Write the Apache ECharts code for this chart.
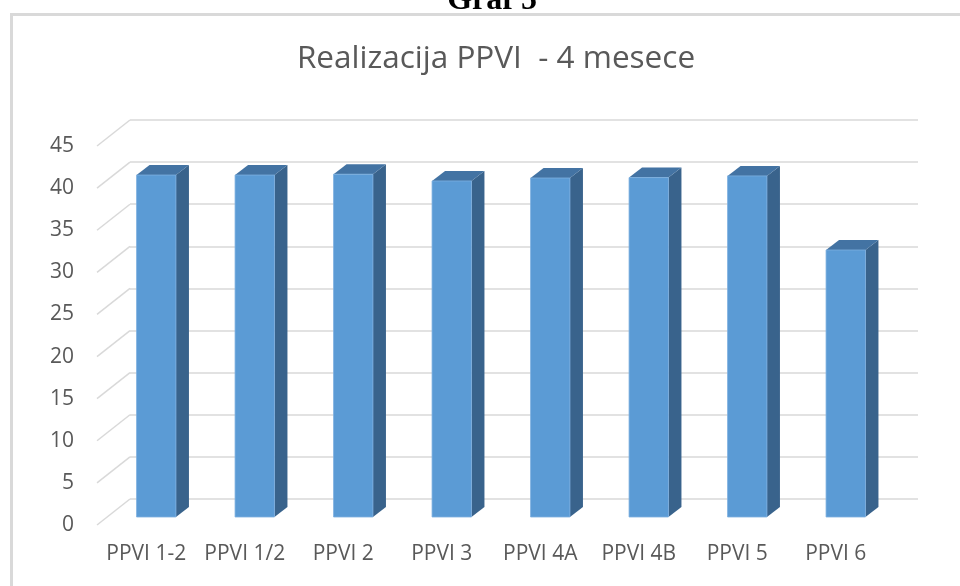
<!doctype html>
<html>
	<head>
		<meta charset="UTF-8">
		<title>Realizacija PPVI - 4 mesece</title>
		<script src="https://cdn.jsdelivr.net/npm/echarts@6/dist/echarts.min.js"></script>
		<style>
			html, body {
				margin: 0;
				padding: 0;
				background: #fff;
			}
			#chart {
				width: 960px;
				height: 586px;
			}
		</style>
	</head>
	<body>
		<div id="chart"></div>
		<script type="text/javascript">
			// podaci sa grafikona
			var categories = ['PPVI 1-2', 'PPVI 1/2', 'PPVI 2', 'PPVI 3', 'PPVI 4A', 'PPVI 4B', 'PPVI 5', 'PPVI 6'];
			var values = [40.6, 40.6, 40.7, 39.9, 40.25, 40.3, 40.5, 31.7];
			var yTicks = [0, 5, 10, 15, 20, 25, 30, 35, 40, 45];
			var titleText = 'Realizacija PPVI  - 4 mesece';
			var captionText = 'Graf 5';

			// "dubina" 3D prikaza (pomak zadnjeg zida u odnosu na prednju ravan)
			var DEPTH_X = 33, DEPTH_Y = -26;
			var FRONT_X = 10, FRONT_Y = -8; // prednja strana stubica
			var SIDE_X = 13, SIDE_Y = -10;  // debljina stubica

			var axisFont = '"Open Sans", sans-serif';

			function renderBar(params, api) {
				var i = api.value(0);
				var base = api.coord([i, 0]);
				var top = api.coord([i, api.value(1)]);
				var bw = api.size([1, 0])[0] * 0.4;
				var xl = base[0] - bw / 2 + FRONT_X;
				var xr = xl + bw;
				var yb = base[1] + FRONT_Y;
				var yt = top[1] + FRONT_Y;
				return {
					type: 'group',
					children: [{
						type: 'polygon',
						shape: { points: [[xr, yt], [xr + SIDE_X, yt + SIDE_Y], [xr + SIDE_X, yb + SIDE_Y], [xr, yb]] },
						style: { fill: '#39638c' }
					}, {
						type: 'polygon',
						shape: { points: [[xl, yt], [xl + SIDE_X, yt + SIDE_Y], [xr + SIDE_X, yt + SIDE_Y], [xr, yt]] },
						style: { fill: '#4373a3' }
					}, {
						type: 'rect',
						shape: { x: xl, y: yt, width: bw, height: yb - yt },
						style: { fill: '#5b9bd5', stroke: '#7eb0df', lineWidth: 0.8 }
					}]
				};
			}

			// kose linije koje spajaju oznake sa zadnjim zidom
			function renderDiagonal(params, api) {
				var y = api.coord([0, api.value(0)])[1];
				var x = params.coordSys.x;
				return {
					type: 'line',
					shape: { x1: x, y1: y, x2: x + DEPTH_X, y2: y + DEPTH_Y },
					style: { stroke: '#d9d9d9', lineWidth: 1.5 }
				};
			}

			var chartOption = {
				animation: false,
				backgroundColor: '#ffffff',
				graphic: [{
					type: 'rect',
					shape: { x: 11.5, y: 14.5, width: 1000, height: 1000 },
					style: { fill: 'none', stroke: '#d9d9d9', lineWidth: 3 },
					z: 0
				}, {
					type: 'text',
					x: 492,
					y: 1,
					style: {
						text: captionText,
						font: 'bold 32px "Liberation Serif", serif',
						fill: '#000',
						align: 'center',
						verticalAlign: 'middle'
					}
				}, {
					type: 'text',
					x: 496,
					y: 59,
					style: {
						text: titleText,
						font: '31.5px "Open Sans", sans-serif',
						fill: '#595959',
						align: 'center',
						verticalAlign: 'middle'
					}
				}],
				grid: [{
					left: 97,
					right: 75,
					top: 146,
					bottom: 61
				}, {
					left: 130,
					right: 42,
					top: 120,
					bottom: 87
				}],
				xAxis: [{
					type: 'category',
					gridIndex: 0,
					data: categories,
					axisLine: { show: false },
					axisTick: { show: false },
					axisLabel: {
						margin: 19,
						color: '#595959',
						fontSize: 21,
						fontFamily: axisFont,
						interval: 0
					}
				}, {
					type: 'category',
					gridIndex: 1,
					data: categories,
					show: false
				}],
				yAxis: [{
					type: 'value',
					gridIndex: 0,
					min: 0,
					max: 45,
					interval: 5,
					axisLine: { show: false },
					axisTick: { show: false },
					splitLine: { show: false },
					axisLabel: {
						margin: 23,
						color: '#595959',
						fontSize: 21,
						fontFamily: axisFont
					}
				}, {
					type: 'value',
					gridIndex: 1,
					min: 0,
					max: 45,
					interval: 5,
					axisLine: { show: false },
					axisTick: { show: false },
					axisLabel: { show: false },
					splitLine: {
						show: true,
						lineStyle: { color: '#d9d9d9', width: 1.5 }
					}
				}],
				series: [{
					type: 'custom',
					xAxisIndex: 0,
					yAxisIndex: 0,
					renderItem: renderDiagonal,
					data: yTicks.map(function(t) { return [t]; }),
					encode: { y: 0 },
					silent: true,
					z: 1
				}, {
					type: 'custom',
					xAxisIndex: 0,
					yAxisIndex: 0,
					renderItem: renderBar,
					data: values.map(function(v, i) { return [i, v]; }),
					encode: { x: 0, y: 1 },
					z: 3
				}]
			};

			var barChart = echarts.init(document.getElementById('chart'));
			barChart.setOption(chartOption);
		</script>
	</body>
</html>
